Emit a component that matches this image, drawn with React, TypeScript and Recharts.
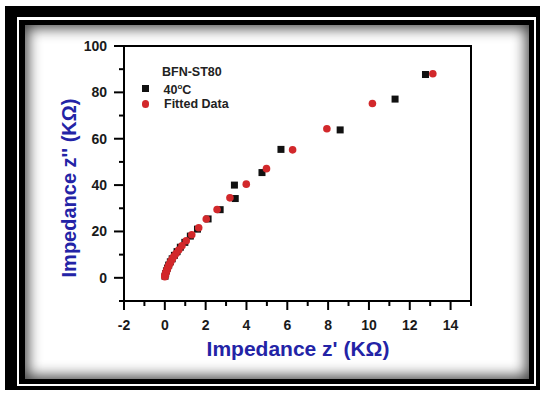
import { ScatterChart, Scatter, XAxis, YAxis, ReferenceArea, Label } from "recharts";

// Nyquist plot, BFN-ST80 at 40°C: [z' (KΩ), z'' (KΩ)]
const measured: [number, number][] = [
  [12.77, 87.7], [11.28, 77.1], [8.59, 63.8], [5.69, 55.4], [4.76, 45.4],
  [3.41, 40.0], [3.45, 34.2], [2.71, 29.4], [2.12, 25.4], [1.6, 21.0],
  [1.25, 18.0], [0.98, 15.3], [0.76, 13.2], [0.6, 11.3], [0.47, 9.7],
  [0.36, 8.2], [0.27, 6.9], [0.19, 5.5], [0.13, 4.2], [0.08, 3.0],
  [0.04, 1.8], [0.01, 0.7],
];

const fitted: [number, number][] = [
  [13.13, 88.0], [10.17, 75.2], [7.94, 64.3], [6.26, 55.2], [4.98, 47.1],
  [3.99, 40.4], [3.19, 34.5], [2.56, 29.5], [2.03, 25.4], [1.66, 21.6],
  [1.32, 18.6], [1.05, 16.0], [0.84, 13.8], [0.68, 12.0], [0.55, 10.5],
  [0.45, 9.3], [0.37, 8.2], [0.3, 7.2], [0.25, 6.3], [0.2, 5.4],
  [0.16, 4.6], [0.12, 3.8], [0.09, 3.1], [0.06, 2.5], [0.04, 1.9],
  [0.02, 1.4], [0.01, 0.9], [0.0, 0.5],
];

const xTicks = [-2, -1, 0, 1, 2, 3, 4, 5, 6, 7, 8, 9, 10, 11, 12, 13, 14, 15];
const yTicks = [-10, 0, 10, 20, 30, 40, 50, 60, 70, 80, 90, 100];

const FONT = "'Liberation Sans', Arial, sans-serif";
const BLUE = "#2323a6";
const RED = "#d2282b";

const toPts = (a: [number, number][]) => a.map(([x, y]) => ({ x, y }));

function XTick({ x, y, payload }: any) {
  const v = payload.value;
  const major = v % 2 === 0 && v <= 14;
  return (
    <g>
      <line x1={x} x2={x} y1={y} y2={y + (major ? 9 : 5)} stroke="#000" strokeWidth={2} />
      {major && (
        <text x={x} y={y + 29} textAnchor="middle" fontFamily={FONT} fontWeight={700} fontSize={14} fill="#1a1a1a">
          {v}
        </text>
      )}
    </g>
  );
}

function YTick({ x, y, payload }: any) {
  const v = payload.value;
  const major = v % 20 === 0;
  return (
    <g>
      <line x1={x} x2={x - (major ? 10 : 5)} y1={y} y2={y} stroke="#000" strokeWidth={2} />
      {major && (
        <text x={x - 17} y={y + 5} textAnchor="end" fontFamily={FONT} fontWeight={700} fontSize={14} fill="#1a1a1a">
          {v}
        </text>
      )}
    </g>
  );
}

const Square = (p: any) => <rect x={p.cx - 3.5} y={p.cy - 3.5} width={7} height={7} fill="#111" />;
const Dot = (p: any) => <circle cx={p.cx} cy={p.cy} r={3.8} fill={RED} />;

function Frame() {
  const abs = (l: number, t: number, r: number, b: number, extra: any) => (
    <div style={{ position: "absolute", left: l, top: t, width: r - l, height: b - t, ...extra }} />
  );
  return (
    <>
      {abs(5, 6, 540, 390, { background: "#000" })}
      {abs(17, 17, 536, 386, { background: "#fff" })}
      {abs(19, 20, 534, 384, { background: "#000" })}
      {abs(25, 25, 529, 379, { background: "#fff", boxShadow: "inset 0 0 14px 3px rgba(0,0,0,0.75)" })}
    </>
  );
}

function LegendBox() {
  const row = { display: "flex", alignItems: "center", height: 16 };
  return (
    <div
      style={{
        position: "absolute",
        left: 137,
        top: 64,
        fontFamily: FONT,
        fontWeight: 700,
        fontSize: 12.5,
        color: "#222",
        lineHeight: "16px",
      }}
    >
      <div style={{ ...row, paddingLeft: 25 }}>BFN-ST80</div>
      <div style={row}>
        <span style={{ width: 7, height: 7, background: "#111", marginLeft: 4.5, marginRight: 15 }} />
        <span>
          40<sup style={{ fontSize: 8, verticalAlign: 5 }}>o</sup>C
        </span>
      </div>
      <div style={row}>
        <span style={{ width: 7.5, height: 7.5, borderRadius: "50%", background: RED, marginLeft: 4.5, marginRight: 15 }} />
        <span>Fitted Data</span>
      </div>
    </div>
  );
}

export default function App() {
  return (
    <div style={{ position: "absolute", left: 0, top: 0, width: 544, height: 394, background: "#fff" }}>
      <Frame />
      <div style={{ position: "absolute", left: 0, top: 0 }}>
        <ScatterChart width={544} height={394} margin={{ top: 46, right: 73, bottom: 63, left: 64 }}>
          <XAxis
            type="number"
            dataKey="x"
            domain={[-2, 15]}
            ticks={xTicks}
            interval={0}
            allowDataOverflow
            tickSize={0}
            tickMargin={0}
            tickLine={false}
            tick={<XTick />}
            axisLine={{ stroke: "#000", strokeWidth: 2 }}
            height={30}
          >
            <Label
              content={() => (
                <text x={298} y={356} textAnchor="middle" fontFamily={FONT} fontWeight={700} fontSize={21} fill={BLUE}>
                  Impedance z' (KΩ)
                </text>
              )}
            />
          </XAxis>
          <YAxis
            type="number"
            dataKey="y"
            domain={[-10, 100]}
            ticks={yTicks}
            interval={0}
            allowDataOverflow
            tickSize={0}
            tickMargin={0}
            tickLine={false}
            tick={<YTick />}
            axisLine={{ stroke: "#000", strokeWidth: 2 }}
            width={60}
          >
            <Label
              content={() => (
                <text
                  x={76}
                  y={188}
                  transform="rotate(-90 76 188)"
                  textAnchor="middle"
                  fontFamily={FONT}
                  fontWeight={700}
                  fontSize={20}
                  fill={BLUE}
                >
                  Impedance z'' (KΩ)
                </text>
              )}
            />
          </YAxis>
          <ReferenceArea x1={-2} x2={15} y1={-10} y2={100} fill="none" stroke="#000" strokeWidth={2} />
          <Scatter name="40°C" data={toPts(measured)} shape={Square} isAnimationActive={false} />
          <Scatter name="Fitted Data" data={toPts(fitted)} shape={Dot} isAnimationActive={false} />
        </ScatterChart>
      </div>
      <LegendBox />
    </div>
  );
}
